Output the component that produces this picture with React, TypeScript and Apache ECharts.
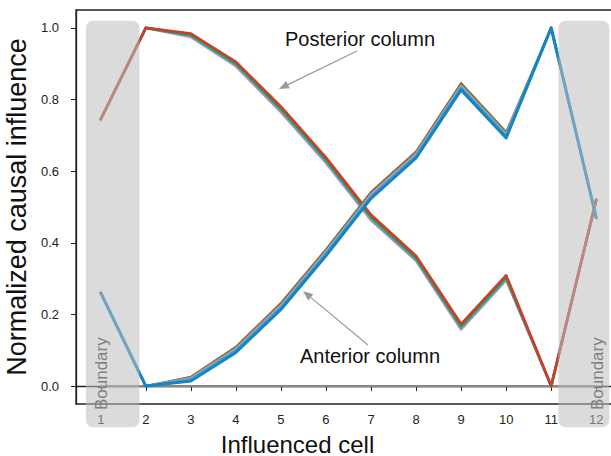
import React, { useEffect, useRef } from "react";
import * as echarts from "echarts";

const cells = [1, 2, 3, 4, 5, 6, 7, 8, 9, 10, 11, 12];
const yTicks = [0, 0.2, 0.4, 0.6, 0.8, 1.0];

// Anterior column (several overlapping runs)
const antBlue = [0.26, 0.0, 0.014, 0.094, 0.214, 0.364, 0.524, 0.637, 0.827, 0.693, 1.0, 0.47];
const antCyan = [0.26, 0.0, 0.018, 0.099, 0.219, 0.369, 0.529, 0.642, 0.832, 0.698, 1.0, 0.47];
const antPink = [0.26, 0.0, 0.022, 0.104, 0.225, 0.375, 0.535, 0.648, 0.838, 0.703, 1.0, 0.47];
const antGreen = [0.26, 0.0, 0.025, 0.108, 0.23, 0.38, 0.54, 0.653, 0.844, 0.708, 1.0, 0.47];
const antRed = [0.26, 0.0, 0.027, 0.111, 0.233, 0.383, 0.543, 0.656, 0.847, 0.711, 1.0, 0.47];

// Posterior column (several overlapping runs)
const postPink = [0.745, 1.0, 0.975, 0.893, 0.765, 0.623, 0.463, 0.35, 0.158, 0.296, 0.0, 0.52];
const postCyan = [0.745, 1.0, 0.978, 0.897, 0.77, 0.628, 0.468, 0.354, 0.163, 0.3, 0.0, 0.52];
const postGreen = [0.745, 1.0, 0.981, 0.901, 0.775, 0.633, 0.473, 0.358, 0.168, 0.304, 0.0, 0.52];
const postRed = [0.745, 1.0, 0.984, 0.905, 0.78, 0.638, 0.478, 0.363, 0.173, 0.309, 0.0, 0.52];

// Other cells (zero influence)
const otherCells = [0, 0, 0, 0, 0, 0, 0, 0, 0, 0, 0, 0];

const FONT = "'Liberation Sans', Arial, sans-serif";

export default function App() {
  const ref = useRef<HTMLDivElement>(null);

  useEffect(() => {
    if (!ref.current) return;
    const chart = echarts.init(ref.current, undefined, { renderer: "svg" });

    const mk = (name: string, vals: number[], color: string, width = 2.6) => ({
      name,
      type: "line",
      data: cells.map((c, i) => [c, vals[i]]),
      showSymbol: false,
      symbol: "none",
      lineStyle: { color, width, cap: "round", join: "round" },
      itemStyle: { color },
      emphasis: { disabled: true },
    });

    chart.setOption({
      animation: false,
      grid: {
        left: 76,
        top: 10,
        bottom: 52,
        right: 5,
        show: true,
        borderColor: "#222",
        borderWidth: 1.3,
        containLabel: false,
        outerBoundsMode: "none",
      },
      xAxis: {
        type: "value",
        min: 0.45,
        max: 12.55,
        name: "Influenced cell",
        nameLocation: "middle",
        nameGap: 28,
        nameTextStyle: {
          fontFamily: FONT,
          fontSize: 24,
          color: "#111",
          padding: [0, 102, 0, 0],
        },
        axisLine: { show: true, lineStyle: { color: "#222", width: 1.3 } },
        axisTick: {
          show: true,
          length: 5,
          lineStyle: { color: "#222" },
          customValues: cells,
        },
        axisLabel: {
          customValues: cells,
          margin: 9,
          fontFamily: FONT,
          fontSize: 13,
          color: "#222",
        },
        splitLine: { show: false },
      },
      yAxis: {
        type: "value",
        min: -0.05,
        max: 1.05,
        name: "Normalized causal influence",
        nameLocation: "middle",
        nameGap: 32,
        nameTextStyle: { fontFamily: FONT, fontSize: 27, color: "#111" },
        axisLine: { show: true, lineStyle: { color: "#222", width: 1.3 } },
        axisTick: {
          show: true,
          length: 5,
          lineStyle: { color: "#222" },
          customValues: yTicks,
        },
        axisLabel: {
          customValues: yTicks,
          margin: 17,
          fontFamily: FONT,
          fontSize: 13,
          color: "#222",
          formatter: (v: number) => v.toFixed(1),
        },
        splitLine: { show: false },
      },
      series: [
        mk("Other cells", otherCells, "#8a8484", 2.2),
        mk("Posterior column (pink)", postPink, "#e377c2"),
        mk("Posterior column (cyan)", postCyan, "#17becf"),
        mk("Posterior column (green)", postGreen, "#2ca02c"),
        mk("Posterior column (red)", postRed, "#c8402e", 2.8),
        mk("Anterior column (red)", antRed, "#c8553a", 1.6),
        mk("Anterior column (green)", antGreen, "#2ca02c", 2),
        mk("Anterior column (pink)", antPink, "#e377c2"),
        mk("Anterior column (cyan)", antCyan, "#17becf"),
        mk("Anterior column (blue)", antBlue, "#1784c2", 3),
      ],
    });

    const px = (x: number, y: number) =>
      chart.convertToPixel({ gridIndex: 0 }, [x, y]) as number[];

    const boundaryRect = (x0: number, x1: number) => {
      const a = px(x0, 1.02);
      const b = px(x1, -0.115);
      return {
        type: "rect",
        z: 100,
        shape: { x: a[0], y: a[1], width: b[0] - a[0], height: b[1] - a[1], r: 7 },
        style: { fill: "rgba(190,190,190,0.55)" },
        silent: true,
      };
    };
    const boundaryText = (x: number) => {
      const p = px(x, -0.077);
      return {
        type: "text",
        z: 101,
        x: p[0] + 1,
        y: p[1] - 40,
        rotation: Math.PI / 2,
        style: {
          text: "Boundary",
          fontFamily: FONT,
          fontSize: 17,
          fill: "#808080",
          align: "center",
          verticalAlign: "middle",
        },
        silent: true,
      };
    };
    const arrow = (x1: number, y1: number, x2: number, y2: number) => {
      const ang = Math.atan2(y2 - y1, x2 - x1);
      const len = 10;
      const w = 4;
      const bx = x2 - len * Math.cos(ang);
      const by = y2 - len * Math.sin(ang);
      const nx = -Math.sin(ang);
      const ny = Math.cos(ang);
      return [
        {
          type: "line",
          z: 102,
          shape: { x1, y1, x2: bx, y2: by },
          style: { stroke: "#9a9a9a", lineWidth: 1.2 },
          silent: true,
        },
        {
          type: "polygon",
          z: 102,
          shape: {
            points: [
              [x2, y2],
              [bx + nx * w, by + ny * w],
              [bx - nx * w, by - ny * w],
            ],
          },
          style: { fill: "#9a9a9a" },
          silent: true,
        },
      ];
    };

    chart.setOption({
      graphic: [
        boundaryRect(0.67, 1.86),
        boundaryRect(11.16, 12.29),
        boundaryText(1),
        boundaryText(12),
        {
          type: "text",
          z: 102,
          x: 360,
          y: 39,
          style: {
            text: "Posterior column",
            fontFamily: FONT,
            fontSize: 20,
            fill: "#111",
            align: "center",
            verticalAlign: "middle",
          },
        },
        {
          type: "text",
          z: 102,
          x: 370,
          y: 356,
          style: {
            text: "Anterior column",
            fontFamily: FONT,
            fontSize: 20,
            fill: "#111",
            align: "center",
            verticalAlign: "middle",
          },
        },
        ...arrow(357, 51, 279, 89),
        ...arrow(368, 345, 303, 291),
      ],
    });

    return () => chart.dispose();
  }, []);

  return (
    <div
      ref={ref}
      style={{ position: "fixed", left: 0, top: 0, width: 626, height: 456, background: "#fff" }}
    />
  );
}
